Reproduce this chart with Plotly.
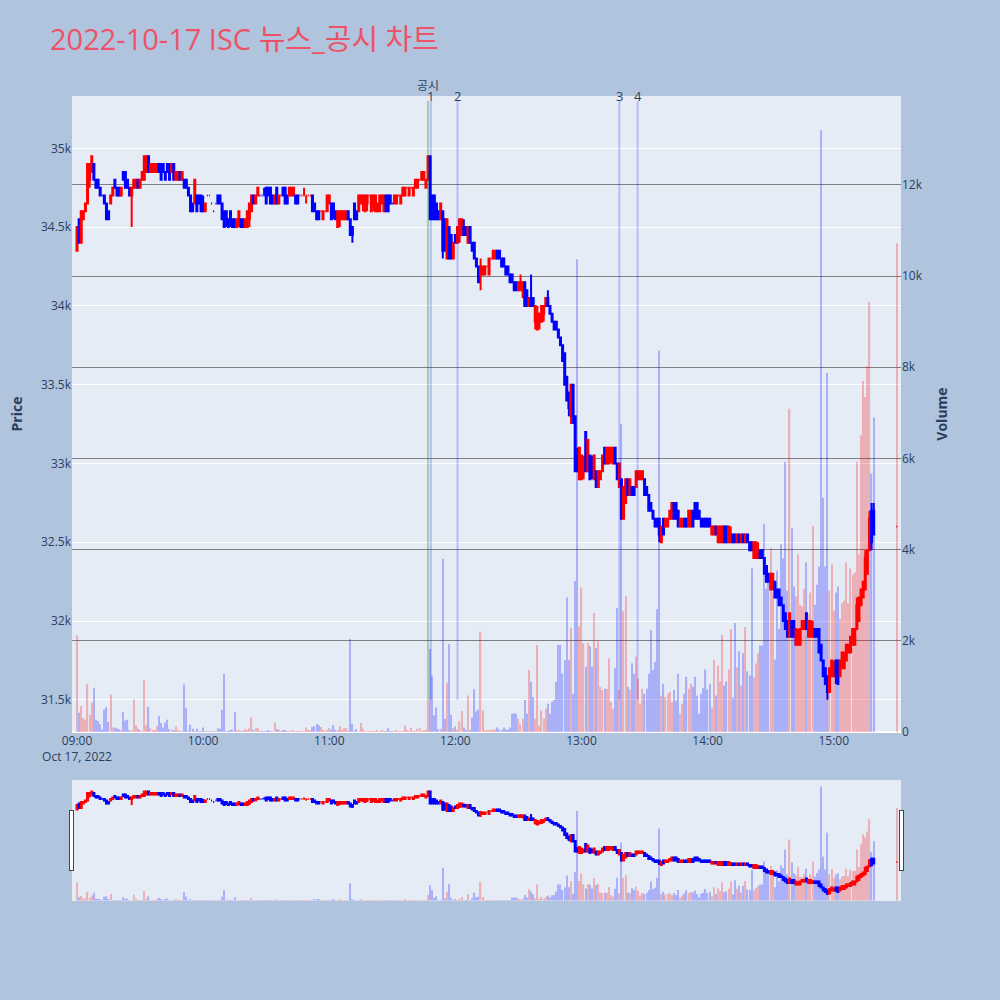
import pandas as pd
import plotly.graph_objects as go
from plotly.subplots import make_subplots

# ---- time axis: 1-minute candles 09:00-15:19 plus the 15:30 closing auction ----
times = list(pd.date_range("2022-10-17 09:00", "2022-10-17 15:19", freq="1min")) + [pd.Timestamp("2022-10-17 15:30")]

opens = [
    34350,34550,34400,34550,34600,34650,34800,34850,34900,34800,
    34800,34750,34700,34700,34650,34600,34650,34700,34800,34750,
    34750,34700,34850,34850,34800,34750,34700,34750,34750,34800,
    34750,34800,34800,34850,34950,34850,34850,34850,34850,34900,
    34900,34900,34850,34900,34900,34850,34900,34800,34800,34850,
    34800,34800,34800,34750,34700,34650,34650,34700,34700,34700,
    34650,34600,34700,34700,34650,34600,34650,34700,34700,34650,
    34600,34600,34550,34600,34550,34550,34500,34550,34550,34550,
    34500,34500,34550,34600,34700,34650,34700,34700,34700,34700,
    34750,34750,34750,34700,34650,34750,34650,34700,34750,34750,
    34700,34700,34700,34700,34700,34700,34700,34700,34700,34700,
    34700,34700,34700,34650,34600,34600,34600,34550,34600,34600,
    34650,34650,34650,34600,34500,34550,34550,34550,34550,34600,
    34550,34500,34650,34600,34600,34650,34650,34600,34650,34700,
    34600,34650,34600,34600,34600,34650,34600,34700,34700,34700,
    34650,34650,34650,34700,34650,34700,34700,34750,34700,34750,
    34700,34750,34750,34800,34800,34800,34750,34800,34950,34700,
    34700,34650,34600,34550,34600,34550,34300,34500,34450,34300,
    34450,34400,34450,34450,34500,34500,34400,34500,34400,34400,
    34300,34250,34200,34200,34200,34250,34200,34300,34300,34300,
    34350,34350,34300,34300,34250,34250,34200,34200,34150,34150,
    34100,34100,34100,34150,34100,34000,34050,34050,33900,33850,
    33900,33900,33950,34000,34050,34000,33950,33900,33900,33850,
    33800,33750,33700,33550,33450,33300,33500,33300,33050,32900,
    32900,32950,33200,32950,33050,33000,32900,32950,32850,32900,
    32950,33100,33000,33000,33050,33000,33100,33000,32850,32900,
    32650,32750,32900,32800,32850,32850,32850,32900,32900,32900,
    32900,32850,32800,32750,32700,32650,32650,32650,32500,32650,
    32600,32600,32650,32650,32750,32750,32700,32600,32600,32650,
    32650,32600,32600,32700,32750,32750,32700,32650,32650,32650,
    32650,32650,32550,32550,32600,32500,32500,32500,32600,32600,
    32500,32500,32550,32550,32500,32550,32500,32550,32500,32550,
    32500,32500,32400,32400,32400,32450,32450,32400,32350,32300,
    32200,32200,32250,32200,32200,32150,32100,32050,32000,31900,
    32000,32000,31850,31850,31850,31950,31950,32050,31900,31900,
    31900,31950,31950,31950,31850,31750,31700,31650,31550,31650,
    31650,31750,31750,31650,31700,31700,31750,31800,31800,31850,
    31850,31950,32000,32100,32150,32200,32300,32450,32700,32700,
    32600,
]

highs = [
    34500,34550,34600,34600,34650,34900,34900,34950,34900,34800,
    34800,34750,34700,34700,34650,34600,34700,34750,34800,34750,
    34750,34750,34850,34850,34800,34750,34750,34800,34800,34800,
    34800,34850,34950,34950,34950,34900,34900,34900,34900,34900,
    34900,34900,34850,34900,34900,34900,34900,34850,34850,34850,
    34850,34800,34800,34750,34700,34650,34800,34700,34700,34700,
    34700,34650,34700,34700,34650,34600,34650,34700,34700,34650,
    34600,34600,34550,34600,34550,34550,34550,34600,34550,34550,
    34550,34600,34650,34700,34700,34700,34750,34700,34700,34750,
    34750,34750,34750,34700,34700,34750,34700,34700,34750,34750,
    34700,34750,34750,34750,34700,34700,34700,34700,34750,34700,
    34700,34700,34700,34650,34600,34600,34600,34600,34600,34700,
    34700,34650,34650,34600,34600,34600,34600,34600,34600,34600,
    34550,34500,34650,34600,34700,34700,34700,34700,34700,34700,
    34700,34700,34700,34650,34700,34700,34700,34700,34700,34700,
    34650,34700,34700,34700,34700,34750,34750,34750,34750,34750,
    34750,34800,34800,34800,34850,34850,34800,34950,34950,34700,
    34700,34650,34600,34650,34600,34550,34550,34500,34450,34400,
    34450,34500,34550,34550,34550,34500,34500,34500,34400,34400,
    34300,34250,34300,34250,34250,34250,34300,34300,34350,34350,
    34350,34350,34300,34300,34250,34250,34200,34200,34150,34150,
    34150,34200,34150,34150,34100,34050,34200,34050,34000,34000,
    33950,34000,34000,34050,34100,34000,33950,33900,33900,33850,
    33800,33750,33700,33550,33450,33500,33500,33300,33100,33100,
    33050,33050,33200,33150,33050,33050,33050,32950,32950,32950,
    33050,33100,33100,33100,33100,33100,33100,33000,33000,32900,
    32850,32900,32900,32900,32850,32850,32950,32950,32950,32950,
    32900,32850,32800,32750,32700,32650,32650,32650,32600,32650,
    32650,32650,32700,32750,32750,32750,32700,32650,32650,32650,
    32650,32700,32700,32700,32750,32750,32700,32650,32650,32650,
    32650,32650,32600,32600,32600,32600,32600,32600,32600,32600,
    32600,32600,32550,32550,32550,32550,32550,32550,32550,32550,
    32500,32500,32500,32500,32500,32450,32450,32400,32350,32300,
    32300,32300,32250,32200,32200,32150,32100,32050,32000,32050,
    32000,32000,31950,31950,31950,32000,32000,32050,32000,32000,
    32000,31950,31950,31950,31850,31750,31700,31650,31700,31750,
    31750,31750,31750,31750,31800,31800,31850,31850,31900,31950,
    31950,32150,32150,32200,32250,32450,32450,32700,32750,32750,
    32600,
]

lows = [
    34350,34400,34400,34550,34600,34650,34750,34850,34800,34750,
    34750,34700,34700,34650,34550,34550,34650,34700,34750,34700,
    34700,34700,34800,34750,34750,34700,34500,34750,34750,34750,
    34750,34800,34800,34850,34850,34850,34850,34850,34850,34850,
    34800,34850,34800,34850,34800,34850,34800,34800,34800,34800,
    34800,34750,34750,34700,34600,34600,34650,34600,34650,34600,
    34600,34600,34700,34700,34650,34600,34650,34650,34650,34550,
    34500,34500,34500,34500,34500,34500,34500,34500,34500,34500,
    34500,34500,34500,34600,34650,34650,34700,34700,34700,34700,
    34650,34700,34650,34650,34650,34650,34650,34700,34700,34650,
    34650,34700,34700,34700,34650,34650,34700,34700,34700,34650,
    34700,34700,34600,34600,34550,34550,34600,34550,34600,34600,
    34650,34550,34550,34550,34500,34500,34550,34550,34550,34550,
    34450,34400,34550,34550,34600,34650,34600,34600,34600,34700,
    34600,34600,34600,34600,34600,34650,34600,34600,34600,34650,
    34650,34650,34650,34700,34650,34700,34700,34750,34700,34750,
    34700,34750,34750,34800,34800,34800,34750,34800,34550,34550,
    34550,34550,34550,34550,34300,34350,34300,34300,34300,34300,
    34400,34400,34400,34450,34450,34450,34400,34400,34350,34300,
    34250,34150,34100,34200,34200,34250,34200,34300,34300,34300,
    34300,34300,34250,34250,34200,34200,34150,34150,34100,34100,
    34100,34100,34050,34000,34000,34000,34000,34000,33850,33850,
    33850,33900,33900,34000,34000,33950,33900,33850,33850,33800,
    33750,33650,33500,33400,33300,33250,33250,32950,32950,32900,
    32900,32900,32950,32950,32900,32900,32900,32850,32850,32900,
    32950,33000,33000,33000,33000,33000,33000,32900,32850,32650,
    32650,32750,32800,32800,32800,32800,32850,32900,32900,32900,
    32800,32800,32700,32700,32650,32600,32600,32500,32500,32550,
    32600,32600,32650,32650,32650,32650,32600,32600,32600,32600,
    32600,32600,32600,32600,32650,32650,32650,32600,32600,32600,
    32600,32600,32550,32550,32550,32500,32500,32500,32500,32500,
    32500,32500,32500,32500,32500,32500,32500,32500,32500,32500,
    32450,32450,32400,32400,32400,32400,32400,32300,32250,32250,
    32200,32200,32150,32150,32100,32100,32000,31950,31900,31900,
    31900,31900,31850,31850,31850,31950,31950,31950,31900,31900,
    31900,31900,31900,31800,31750,31650,31600,31500,31550,31650,
    31650,31600,31600,31650,31700,31700,31750,31800,31800,31850,
    31850,31950,32000,32100,32150,32200,32300,32450,32450,32550,
    32600,
]

closes = [
    34500,34400,34600,34600,34650,34900,34900,34950,34800,34750,
    34750,34700,34700,34650,34550,34550,34700,34750,34750,34700,
    34700,34750,34800,34750,34750,34700,34750,34800,34800,34750,
    34800,34850,34950,34950,34850,34900,34900,34900,34900,34850,
    34800,34850,34800,34850,34800,34900,34800,34850,34850,34800,
    34850,34750,34750,34700,34600,34600,34800,34600,34650,34600,
    34600,34650,34700,34700,34650,34600,34650,34650,34650,34550,
    34500,34550,34500,34550,34500,34500,34550,34600,34500,34500,
    34550,34600,34650,34700,34650,34700,34750,34700,34700,34700,
    34650,34700,34650,34650,34700,34650,34700,34700,34700,34650,
    34650,34750,34750,34750,34650,34650,34700,34700,34700,34700,
    34700,34700,34600,34600,34550,34550,34600,34600,34600,34700,
    34700,34550,34600,34550,34600,34600,34600,34600,34600,34550,
    34450,34450,34550,34550,34700,34700,34700,34700,34700,34700,
    34700,34700,34700,34650,34700,34700,34700,34600,34600,34650,
    34650,34700,34700,34700,34700,34750,34750,34750,34750,34750,
    34750,34800,34800,34800,34850,34850,34800,34950,34550,34550,
    34550,34550,34550,34650,34350,34350,34550,34300,34300,34400,
    34400,34500,34550,34550,34450,34450,34500,34400,34350,34300,
    34250,34150,34250,34250,34250,34250,34300,34300,34350,34350,
    34300,34300,34250,34250,34200,34200,34150,34150,34100,34100,
    34150,34150,34150,34000,34000,34050,34000,34000,34000,33950,
    33950,34000,34000,34050,34000,33950,33900,33850,33850,33800,
    33750,33650,33500,33400,33350,33500,33300,32950,32950,33100,
    33050,33000,32950,33150,32900,32950,33050,32850,32950,32950,
    33050,33000,33100,33100,33100,33100,33000,32900,33000,32650,
    32850,32900,32800,32900,32800,32800,32950,32950,32950,32950,
    32800,32800,32700,32700,32650,32600,32600,32550,32600,32550,
    32650,32650,32700,32750,32650,32650,32600,32650,32650,32600,
    32600,32700,32700,32600,32650,32650,32650,32600,32600,32600,
    32600,32600,32600,32600,32550,32600,32600,32600,32500,32500,
    32600,32550,32500,32500,32550,32500,32550,32500,32550,32500,
    32450,32450,32500,32500,32450,32400,32400,32300,32250,32250,
    32300,32300,32150,32150,32100,32100,32000,31950,31900,32050,
    31900,31900,31950,31900,31950,32000,32000,31950,32000,32000,
    31950,31900,31900,31800,31750,31650,31600,31550,31700,31750,
    31700,31650,31600,31750,31800,31800,31850,31850,31900,31950,
    31950,32100,32150,32200,32250,32400,32450,32650,32500,32550,
    32600,
]

volumes = [
    2120,420,570,310,270,1060,380,640,960,270,
    240,170,50,490,540,220,820,100,100,80,
    60,30,440,250,270,40,30,720,150,70,
    40,20,1140,150,550,80,30,30,130,350,
    200,100,210,270,60,50,30,120,30,20,
    10,1040,520,20,160,70,20,70,10,20,
    100,10,20,10,10,10,20,80,70,490,
    1280,20,20,30,50,440,30,30,20,10,
    60,30,80,320,30,80,80,10,20,10,
    20,30,20,10,210,60,50,10,40,30,
    10,20,10,30,10,10,20,20,10,100,
    30,30,110,130,180,150,110,30,10,40,
    90,50,150,40,30,130,40,80,80,10,
    2040,180,10,60,10,200,70,10,10,10,
    20,10,10,30,10,40,20,10,80,10,
    20,10,30,10,10,10,140,50,10,90,
    10,10,70,80,10,40,40,700,1820,1240,
    370,540,60,70,3800,290,1080,1930,380,80,
    120,50,240,460,100,40,800,40,320,940,
    450,490,2200,470,40,30,40,40,60,50,
    100,60,40,100,60,40,100,400,410,400,
    290,160,290,700,400,1360,1100,770,290,1910,
    140,470,290,510,620,400,660,700,1100,1910,
    1910,1280,1580,2950,1580,2280,840,3310,10370,2320,
    3170,1950,1430,1950,1880,1430,2610,1840,1990,990,
    920,950,950,1620,660,510,1400,2720,920,6750,
    2650,2980,990,920,1510,1280,1650,1170,620,950,
    840,950,1280,2240,1360,1540,2690,8370,800,1060,
    770,840,880,660,920,690,1280,400,620,840,
    1210,950,1060,990,1210,800,400,840,970,1370,
    930,1060,530,1590,800,1460,1110,2130,1020,1110,
    1370,2260,750,2390,1420,1770,1020,1730,2300,1330,
    1240,3590,1200,1500,1730,1900,1900,4560,3140,3320,
    4030,3060,1590,3540,2260,4120,3810,5930,3100,7090,
    4470,3190,2970,3900,2790,2750,3140,3720,2570,3060,
    4520,2790,3230,3630,13200,5140,3630,7880,3100,3680,
    2660,3060,3190,2480,2830,2880,3720,2830,3590,3450,
    3500,5930,3900,6510,7700,7350,8020,9430,5670,6900,
    10720,
]

# news / disclosure markers
disclosure_time = "2022-10-17 11:47:00"
disclosure_label = "공시"
news_times = ["2022-10-17 11:48:20", "2022-10-17 12:01:00", "2022-10-17 13:18:00", "2022-10-17 13:26:40"]
news_labels = ["1", "2", "3", "4"]

# direction of each candle (same rule as plotly: ties use change vs previous close)
bar_colors = []
inc = True
prev_c = None
for o, c in zip(opens, closes):
    if c == o:
        if prev_c is not None and c != prev_c:
            inc = c > prev_c
    else:
        inc = c > o
    prev_c = c
    bar_colors.append("red" if inc else "blue")

fig = make_subplots(specs=[[{"secondary_y": True}]])

fig.add_trace(
    go.Candlestick(
        x=times, open=opens, high=highs, low=lows, close=closes,
        increasing=dict(line=dict(color="red"), fillcolor="red"),
        decreasing=dict(line=dict(color="blue"), fillcolor="blue"),
        name="Price", showlegend=False,
    ),
    secondary_y=False,
)
fig.add_trace(
    go.Bar(x=times, y=volumes, marker=dict(color=bar_colors, line=dict(width=0)),
           opacity=0.25, name="Volume", showlegend=False),
    secondary_y=True,
)

y_bottom = min(lows)
y_top = max(highs) * 1.01
fig.add_shape(type="line", x0=disclosure_time, x1=disclosure_time, y0=y_bottom, y1=y_top,
              xref="x", yref="y", line=dict(color="rgba(0,128,0,0.3)", width=2))
fig.add_annotation(x=disclosure_time, y=1, xref="x", yref="paper", text=disclosure_label,
                   showarrow=False, yanchor="bottom", xanchor="center",
                   font=dict(size=12, color="#2a3f5f"))
for t, lab in zip(news_times, news_labels):
    fig.add_shape(type="line", x0=t, x1=t, y0=y_bottom, y1=y_top, xref="x", yref="y",
                  line=dict(color="rgba(0,0,255,0.2)", width=2))
    fig.add_annotation(x=t, y=1, xref="x", yref="paper", text=lab, showarrow=False,
                       yanchor="middle", xanchor="center", font=dict(size=13, color="#2a3f5f"))

x_range = ["2022-10-17 08:57:36", "2022-10-17 15:32:00"]
fig.update_layout(
    autosize=True,
    paper_bgcolor="lightsteelblue",
    plot_bgcolor="#E5ECF6",
    font=dict(family="Open Sans, Noto Sans CJK KR, sans-serif"),
    title=dict(text="2022-10-17 ISC 뉴스_공시 차트", x=0.05, xanchor="left", y=0.96, yanchor="middle",
               font=dict(size=29, color="#EE5268", family="Open Sans, Noto Sans CJK KR, sans-serif")),
    margin=dict(l=72, r=99, t=96, b=100),
    showlegend=False,
    bargap=0.4,
)
fig.update_xaxes(
    domain=[0, 1],
    range=x_range,
    rangeslider=dict(visible=True, range=x_range, bgcolor="#E5ECF6", thickness=0.15),
    showgrid=False,
)
fig.update_yaxes(range=[31296, 35332], title=dict(text="<b>Price</b>"), secondary_y=False)
fig.update_yaxes(range=[0, 13950], title=dict(text="<b>Volume</b>"), gridcolor="grey",
                 showgrid=True, secondary_y=True)

post_js = (
    "document.documentElement.style.margin='0';"
    "document.body.style.margin='0';document.body.style.padding='0';"
    "document.documentElement.style.height='100%';document.body.style.height='100%';"
    "document.body.style.overflow='hidden';"
    "var gd=document.getElementById('{plot_id}');"
    "Plotly.Plots.resize(gd);"
)
fig.write_html("out.html", post_script=post_js, config={"displayModeBar": False})
